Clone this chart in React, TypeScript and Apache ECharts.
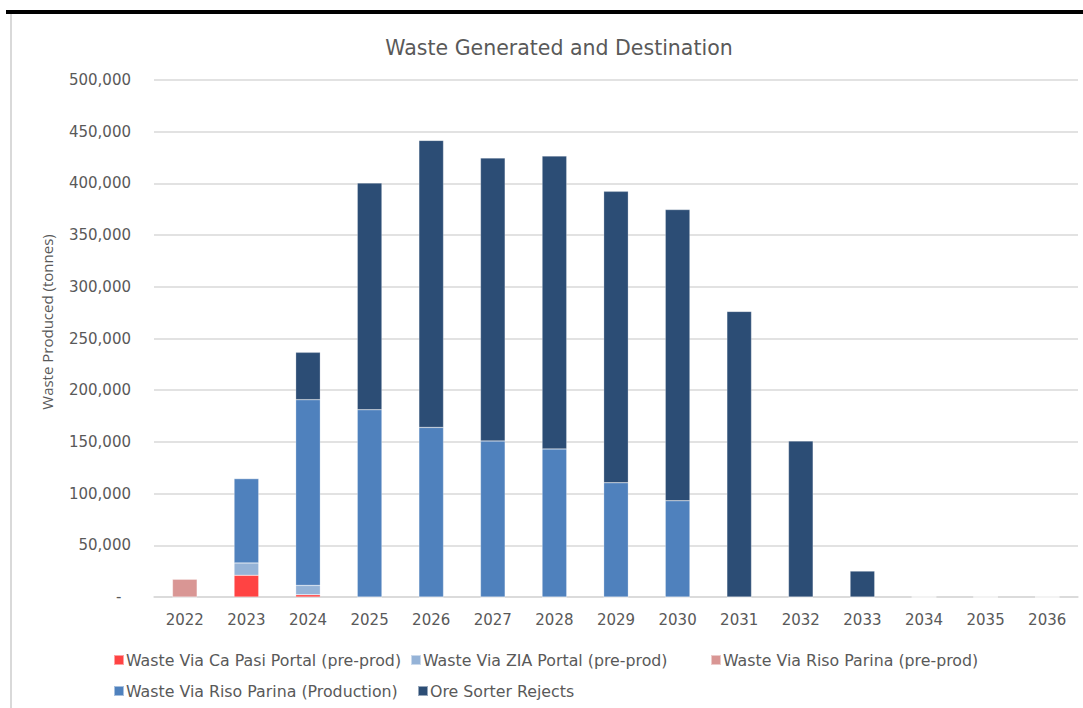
import React, { useEffect, useRef } from "react";
import * as echarts from "echarts";

const years = ["2022","2023","2024","2025","2026","2027","2028","2029","2030","2031","2032","2033","2034","2035","2036"];
const caPasiPre = [0, 21000, 2200, 0, 0, 0, 0, 0, 0, 0, 0, 0, 0, 0, 0];
const ziaPre = [0, 12000, 9000, 0, 0, 0, 0, 0, 0, 0, 0, 0, 0, 0, 0];
const risoPre = [17400, 0, 0, 0, 0, 0, 0, 0, 0, 0, 0, 0, 0, 0, 0];
const risoProd = [0, 81500, 179600, 181100, 164000, 150900, 143200, 110500, 93100, 0, 0, 0, 0, 0, 0];
const oreSorter = [0, 0, 45800, 219300, 277600, 273700, 283300, 281800, 281600, 276200, 150900, 25100, 0, 0, 0];

const seriesNames = [
  "Waste Via Ca Pasi Portal (pre-prod)",
  "Waste Via ZIA Portal (pre-prod)",
  "Waste Via Riso Parina (pre-prod)",
  "Waste Via Riso Parina (Production)",
  "Ore Sorter Rejects",
];
const seriesData = [caPasiPre, ziaPre, risoPre, risoProd, oreSorter];
const colors = ["#FF4343", "#95B3D7", "#D99694", "#4F81BD", "#2C4D75"];
const legendPos = [
  { left: 113, top: 652 },
  { left: 410, top: 652 },
  { left: 710, top: 652 },
  { left: 113, top: 683 },
  { left: 417, top: 683 },
];

const FONT = "'DejaVu Sans', sans-serif";
const FONT2 = "'Open Sans', sans-serif";

export default function App() {
  const ref = useRef<HTMLDivElement>(null);
  useEffect(() => {
    document.body.style.margin = "0";
    const chart = echarts.init(ref.current!, null, { renderer: "svg" });
    chart.setOption({
      animation: false,
      backgroundColor: "#ffffff",
      textStyle: { fontFamily: FONT },
      title: {
        text: "Waste Generated and Destination",
        left: 554,
        textAlign: "center",
        top: 32,
        textStyle: { fontFamily: FONT, fontSize: 20.5, fontWeight: "normal", color: "#595959" },
      },
      legend: seriesNames.map((n, i) => ({
        data: [n],
        left: legendPos[i].left,
        top: legendPos[i].top,
        icon: "rect",
        itemWidth: 10,
        itemHeight: 10,
        itemGap: 0,
        padding: 0,
        selectedMode: false,
        textStyle: { fontFamily: FONT, fontSize: 15.8, color: "#595959", padding: [0, 0, 0, -3] },
      })),
      grid: { left: 154, right: 5, top: 80, bottom: 111, containLabel: false },
      xAxis: {
        type: "category",
        data: years,
        axisTick: { show: false },
        axisLine: { lineStyle: { color: "#D9D9D9", width: 1.5 } },
        axisLabel: { fontFamily: FONT, fontSize: 15, color: "#595959", margin: 15 },
      },
      yAxis: {
        type: "value",
        min: 0,
        max: 500000,
        interval: 50000,
        axisLine: { show: false },
        axisTick: { show: false },
        splitLine: { lineStyle: { color: "#D9D9D9", width: 1.5 } },
        axisLabel: {
          fontFamily: FONT,
          fontSize: 15,
          color: "#595959",
          margin: 23,
          formatter: (v: number) => (v === 0 ? "-  " : v.toLocaleString("en-US")),
        },
      },
      graphic: [
        { type: "rect", left: 6, top: 10, shape: { width: 1077, height: 4 }, style: { fill: "#000000" } },
        { type: "rect", left: 10, top: 14, shape: { width: 2, height: 694 }, style: { fill: "#D9D9D9" } },
        {
          type: "text",
          x: 47,
          y: 322,
          rotation: Math.PI / 2,
          style: {
            text: "Waste Produced (tonnes)",
            fontFamily: FONT2,
            fontSize: 15,
            fill: "#595959",
            align: "center",
            verticalAlign: "middle",
          },
        },
      ],
      series: seriesNames.map((n, i) => ({
        name: n,
        type: "bar",
        stack: "total",
        data: seriesData[i],
        barWidth: "40%",
        itemStyle: { color: colors[i], borderColor: "rgba(255,255,255,0.5)", borderWidth: 0.5 },
      })),
    });
    return () => chart.dispose();
  }, []);
  return <div ref={ref} style={{ position: "absolute", left: 0, top: 0, width: 1083, height: 708 }} />;
}
